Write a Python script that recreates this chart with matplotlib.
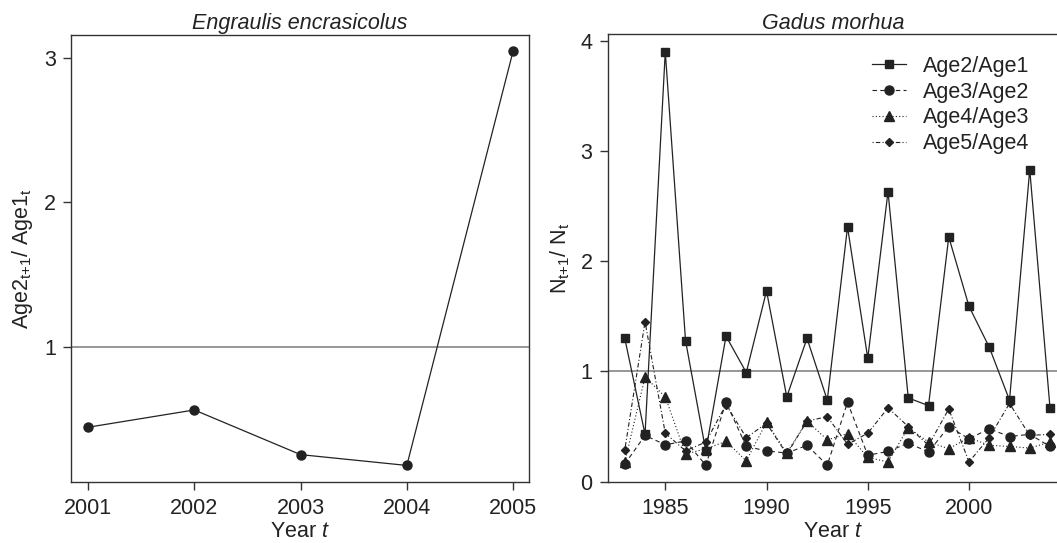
import numpy as np
import matplotlib
matplotlib.use('Agg')
import matplotlib.pyplot as plt

plt.rcParams['font.family'] = ['Liberation Sans', 'DejaVu Sans']
plt.rcParams['mathtext.fontset'] = 'custom'
plt.rcParams['mathtext.rm'] = 'Liberation Sans'
plt.rcParams['mathtext.it'] = 'Liberation Sans:italic'

# Engraulis encrasicolus
anch_years = [2001, 2002, 2003, 2004, 2005]
anch_ratio = [0.44, 0.56, 0.25, 0.175, 3.05]

# Gadus morhua
cod_years = list(range(1983, 2005))
age2_age1 = [1.30, 0.43, 3.90, 1.28, 0.28, 1.32, 0.99, 1.73, 0.77, 1.30, 0.74,
             2.31, 1.12, 2.63, 0.76, 0.69, 2.22, 1.59, 1.22, 0.74, 2.83, 0.67]
age3_age2 = [0.16, 0.42, 0.335, 0.37, 0.15, 0.72, 0.32, 0.28, 0.26, 0.33, 0.15,
             0.72, 0.24, 0.275, 0.35, 0.27, 0.50, 0.39, 0.48, 0.41, 0.43, 0.32]
age4_age3 = [0.18, 0.95, 0.77, 0.25, 0.30, 0.365, 0.19, 0.54, 0.26, 0.55, 0.38,
             0.435, 0.22, 0.18, 0.49, 0.36, 0.30, 0.40, 0.33, 0.32, 0.305, 0.36]
age5_age4 = [0.29, 1.45, 0.44, 0.28, 0.36, 0.70, 0.40, 0.53, 0.25, 0.55, 0.59,
             0.34, 0.44, 0.67, 0.50, 0.33, 0.66, 0.18, 0.40, 0.71, 0.42, 0.43]

fs = 15.5
ink = '#222222'
spine_col = '#333333'
ref_col = '#7a7a7a'

fig = plt.figure(figsize=(10.57, 5.43), dpi=100)


def style_axes(ax):
    for s in ax.spines.values():
        s.set_color(spine_col)
        s.set_linewidth(1.0)
    ax.tick_params(direction='out', length=6, width=1.0, color=spine_col,
                   labelsize=fs, labelcolor=ink, pad=5)


# left panel
ax1 = fig.add_axes([0.0672, 0.1118, 0.4333, 0.8245])
ax1.axhline(1, color=ref_col, lw=1.1, zorder=1)
ax1.plot(anch_years, anch_ratio, color=ink, lw=0.9, marker='o', ms=6.5,
         markerfacecolor=ink, markeredgecolor=ink, zorder=3)
ax1.set_xlim(2000.84, 2005.15)
ax1.set_ylim(0.058, 3.165)
ax1.set_xticks(anch_years)
ax1.set_yticks([1, 2, 3])
ax1.set_title('Engraulis encrasicolus', fontsize=fs, style='italic', color=ink, pad=4)
ax1.set_xlabel('Year $\\mathit{t}$', fontsize=fs, color=ink, labelpad=2)
ax1.set_ylabel('Age2$_{\\mathrm{t{+}1}}$/ Age1$_{\\mathrm{t}}$', fontsize=fs, color=ink, labelpad=6)
style_axes(ax1)

# right panel
ax2 = fig.add_axes([0.575, 0.1118, 0.427, 0.8256])
ax2.axhline(1, color=ref_col, lw=1.1, zorder=1)
ax2.plot(cod_years, age2_age1, color=ink, lw=0.9, ls='-', marker='s', ms=6,
         label='Age2/Age1', zorder=4)
ax2.plot(cod_years, age3_age2, color=ink, lw=0.8, ls=(0, (4, 3)), marker='o', ms=6.5,
         label='Age3/Age2', zorder=3)
ax2.plot(cod_years, age4_age3, color=ink, lw=0.8, ls=(0, (1, 2)), marker='^', ms=7,
         label='Age4/Age3', zorder=3)
ax2.plot(cod_years, age5_age4, color=ink, lw=0.8, ls=(0, (1, 2, 4, 2)), marker='D', ms=4,
         label='Age5/Age4', zorder=3)
ax2.set_xlim(1982.16, 2004.45)
ax2.set_ylim(-0.005, 4.06)
ax2.set_xticks([1985, 1990, 1995, 2000])
ax2.set_yticks([0, 1, 2, 3, 4])
ax2.set_title('Gadus morhua', fontsize=fs, style='italic', color=ink, pad=2.5)
ax2.set_xlabel('Year $\\mathit{t}$', fontsize=fs, color=ink, labelpad=2)
ax2.set_ylabel('N$_{\\mathrm{t{+}1}}$/ N$_{\\mathrm{t}}$', fontsize=fs, color=ink, labelpad=6)
style_axes(ax2)

leg = ax2.legend(loc='upper left', bbox_to_anchor=(0.825, 0.897),
                 bbox_transform=fig.transFigure, frameon=False, fontsize=fs,
                 handlelength=1.6, handletextpad=0.75, labelspacing=0.22,
                 borderaxespad=0, borderpad=0)
for t in leg.get_texts():
    t.set_color(ink)

fig.savefig('out.png', dpi=100)
